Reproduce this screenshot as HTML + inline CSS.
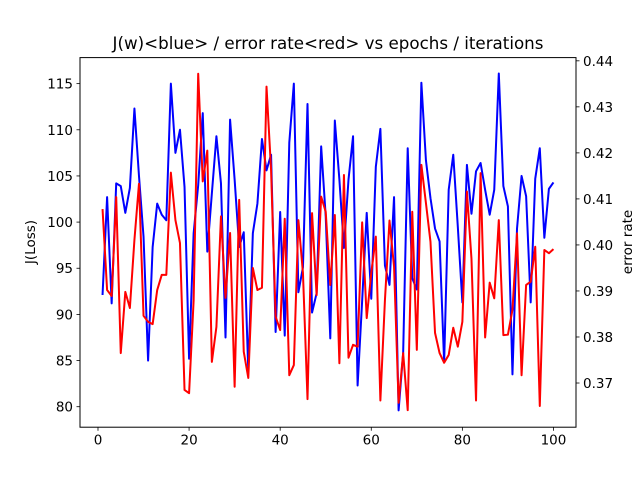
<!DOCTYPE html>
<html><head><meta charset="utf-8"><style>
body{margin:0;background:#fff}
svg{display:block;font-family:"DejaVu Sans","Liberation Sans",sans-serif}
</style></head><body>
<svg id="chart" width="640" height="480" viewBox="0 0 640 480" xmlns="http://www.w3.org/2000/svg">
<rect width="640" height="480" fill="#fff"/>
<text x="328" y="49" text-anchor="middle" font-size="16.7">J(w)&lt;blue&gt; / error rate&lt;red&gt; vs epochs / iterations</text>
<text transform="translate(35,242) rotate(-90)" text-anchor="middle" font-size="13.5">J(Loss)</text>
<text transform="translate(632,242) rotate(-90)" text-anchor="middle" font-size="13.5">error rate</text>
<g id="marks"></g>
<rect x="80" y="57.6" width="496" height="369.6" fill="none" stroke="#000" stroke-width="1"/>
</svg>
<script>
const epochs = Array.from({length:100},(_,i)=>i+1);
const lossValues = [92.1,102.7,91.2,104.2,103.9,101,103.7,112.3,105,98.4,85,97.3,102,100.8,100.2,115,107.5,110,103.8,85.2,98.8,104,111.8,96.8,103.1,109.3,104.2,87.5,111.1,104.6,97.3,98.9,83.9,98.8,102,109,105.6,107.3,88.1,101.1,87.7,108.6,115,92.4,95.1,112.8,90.2,92.3,108.2,100.6,87.4,111,104.6,97.2,104.6,109.3,82.3,91.5,101,91.7,106,110.1,95.3,93.2,102.7,79.6,85.8,108,93.9,92.7,115.1,106.7,102.6,99.3,97.9,84.8,103.5,107.3,99.5,91.3,106.2,100.9,105.5,106.4,103.5,100.8,103.5,116.1,103.9,101.7,83.5,99.3,105,102.8,91.3,104.7,108,98.3,103.6,104.3];
const errorValues = [0.4078,0.3902,0.3889,0.4104,0.3765,0.3898,0.3863,0.4011,0.4133,0.3846,0.3833,0.3828,0.3902,0.3935,0.3935,0.4157,0.4054,0.4004,0.3685,0.3678,0.388,0.4372,0.4138,0.4205,0.3746,0.3822,0.4062,0.3885,0.4026,0.3692,0.4098,0.3768,0.3711,0.395,0.3902,0.3907,0.4344,0.4163,0.3844,0.3815,0.4057,0.3717,0.3739,0.4054,0.3939,0.3665,0.4069,0.3891,0.4105,0.4072,0.3913,0.4065,0.3743,0.4152,0.3755,0.3783,0.3779,0.4049,0.3841,0.3939,0.4018,0.3662,0.388,0.4053,0.3953,0.3657,0.3765,0.3641,0.4072,0.3772,0.4174,0.4091,0.4007,0.3809,0.3765,0.3744,0.3761,0.382,0.3779,0.3833,0.4116,0.397,0.3662,0.4156,0.3799,0.3918,0.3884,0.4054,0.3804,0.3805,0.3859,0.4025,0.3717,0.3913,0.392,0.3996,0.365,0.3989,0.3982,0.3991];
const xTicks = [0,20,40,60,80,100];
const leftTicks = [80,85,90,95,100,105,110,115];
const rightTicks = [0.37,0.38,0.39,0.40,0.41,0.42,0.43,0.44];

const L=80,R=576,T=57.6,B=427.2;
const xMin=-3.95,xMax=104.95,lMin=77.78,lMax=117.82,rMin=0.3604,rMax=0.4407;
const xS=v=>L+(v-xMin)/(xMax-xMin)*(R-L);
const lS=v=>B-(v-lMin)/(lMax-lMin)*(B-T);
const rS=v=>B-(v-rMin)/(rMax-rMin)*(B-T);
const NS="http://www.w3.org/2000/svg";
const g=document.getElementById('marks');
function mk(tag,attrs){const e=document.createElementNS(NS,tag);for(const k in attrs)e.setAttribute(k,attrs[k]);g.appendChild(e);return e;}

xTicks.forEach(t=>{
  const x=xS(t);
  const ln=mk('line',{x1:x,x2:x,y1:B,y2:B+3.5,stroke:'#000','stroke-width':0.8});
  
  
  const tx=mk('text',{x:x,y:B+17.5,'text-anchor':'middle','font-size':13.5});
  tx.textContent=t;
  
  
});
leftTicks.forEach(t=>{
  const y=lS(t);
  const ln=mk('line',{x1:L-3.5,x2:L,y1:y,y2:y,stroke:'#000','stroke-width':0.8});
  
  
  const tx=mk('text',{x:L-7,y:y+5,'text-anchor':'end','font-size':13.5});
  tx.textContent=t;
  
  
});
rightTicks.forEach(t=>{
  const y=rS(t);
  const ln=mk('line',{x1:R,x2:R+3.5,y1:y,y2:y,stroke:'#000','stroke-width':0.8});
  
  
  const tx=mk('text',{x:R+7,y:y+5,'text-anchor':'start','font-size':13.5});
  tx.textContent=t.toFixed(2);
  
  
});
const pb=mk('polyline',{points:epochs.map((e,i)=>xS(e)+','+lS(lossValues[i])).join(' '),fill:'none',stroke:'#0000ff','stroke-width':2,'stroke-linejoin':'round'});


const pr=mk('polyline',{points:epochs.map((e,i)=>xS(e)+','+rS(errorValues[i])).join(' '),fill:'none',stroke:'#ff0000','stroke-width':2,'stroke-linejoin':'round'});


</script>
</body></html>
